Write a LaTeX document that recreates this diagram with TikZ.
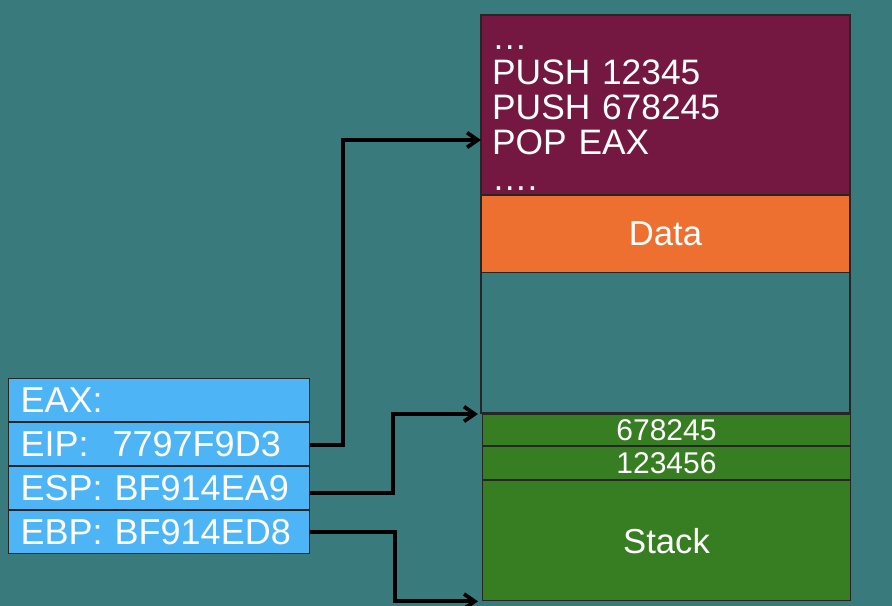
\documentclass[tikz,border=0pt]{standalone}
\usepackage{fontspec}
\setmainfont{Liberation Sans}
\usetikzlibrary{positioning,arrows.meta}

\definecolor{bgteal}{RGB}{57,123,125}
\definecolor{codered}{RGB}{117,24,65}
\definecolor{dataorange}{RGB}{238,112,48}
\definecolor{stackgreen}{RGB}{55,125,34}
\definecolor{regblue}{RGB}{77,181,246}

\tikzset{every picture/.style={line width=0.75pt}}

\begin{document}
\begin{tikzpicture}[x=0.75pt,y=0.75pt,yscale=-1,xscale=1,
  regbox/.style={draw=black!85, line width=1pt, fill=regblue, text=white,
    minimum width=225.5pt, minimum height=32pt, text width=207.5pt,
    inner xsep=9pt, inner ysep=0pt, align=left, font=\fontsize{27}{29}\selectfont},
  membox/.style={draw=black!85, line width=1pt, text=white, minimum width=275.75pt,
    inner sep=0pt, font=\fontsize{26}{28}\selectfont},
  cellbox/.style={membox, fill=stackgreen, font=\fontsize{22.5}{24}\selectfont},
  conn/.style={draw=black, line width=2.8pt, -{Straight Barb[length=8pt,width=11pt]}}]
    %set diagram size 892 x 606
    \useasboundingbox[fill=bgteal] (0,0) rectangle (892,606);

    %Memory outline
    \draw[draw=black!85, line width=1pt] (481,15) rectangle (850,413);
    %Code segment
    \node[membox, fill=codered, anchor=north west, minimum height=134pt] (code) at (481,15) {};
    \node[text=white, text width=260pt, align=left, inner sep=0pt,
      font=\fontsize{26.5}{26.3}\selectfont] (codetext) at (665.5,118)
      {…\\PUSH 12345\\PUSH 678245\\POP EAX\\….};
    %Data segment
    \node[membox, fill=dataorange, minimum height=57.5pt, below=0pt of code] (data) {Data};
    %Stack cells
    \node[cellbox, anchor=north west, minimum height=23pt] (top) at (482,414) {678245};
    \node[cellbox, minimum height=24.5pt, below=0pt of top] (next) {123456};
    \node[cellbox, minimum height=90pt, below=0pt of next, font=\fontsize{26}{28}\selectfont] (stack) {Stack};
    \coordinate (pc) at (481,140);

    %Registers
    \node[regbox, anchor=north west] (eax) at (8,378) {EAX:};
    \node[regbox, below=0pt of eax] (eip) {EIP:\ \ 7797F9D3};
    \node[regbox, below=0pt of eip] (esp) {ESP: BF914EA9};
    \node[regbox, below=0pt of esp] (ebp) {EBP: BF914ED8};

    %Pointers
    \draw[conn] ([yshift=1pt]eip.east) -- ++(33,0) |- (pc);
    \draw[conn, shorten >=3pt] ([yshift=4pt]esp.east) -- ++(83,0) |- (top.north west);
    \draw[conn, shorten >=3pt] (ebp.east) -- ++(85,0) |- (stack.south west);

\end{tikzpicture}
\end{document}
